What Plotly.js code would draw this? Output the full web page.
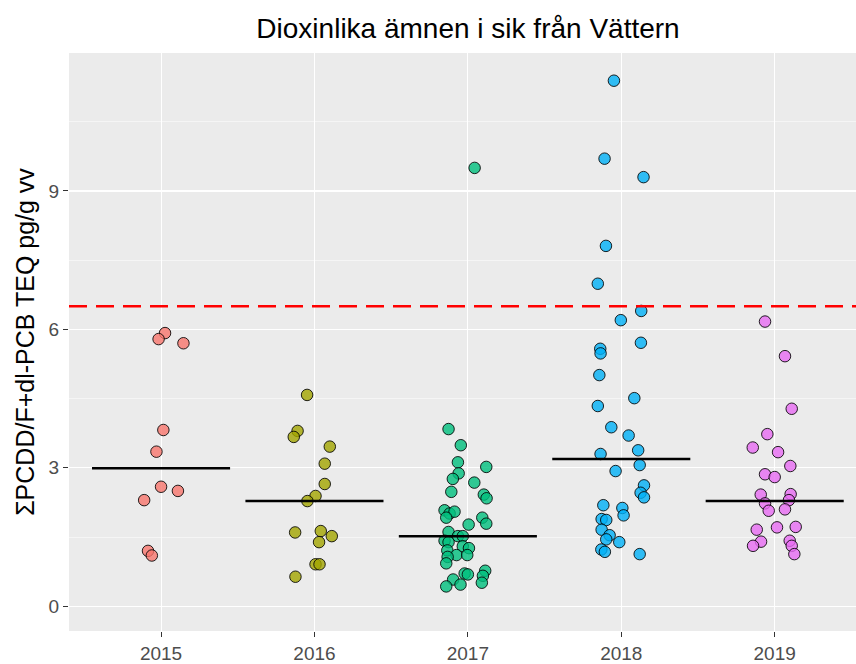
<!DOCTYPE html>
<html>
<head>
<meta charset="utf-8">
<script src="https://cdn.plot.ly/plotly-3.0.1.min.js"></script>
<style>html,body{margin:0;padding:0;background:#fff;}#chart{width:856px;height:664px;}</style>
</head>
<body>
<div id="chart"></div>
<script>
// ---- data ----
const years = ['2015', '2016', '2017', '2018', '2019'];

const values2015 = [5.92, 5.79, 5.70, 3.82, 3.35, 2.59, 2.50, 2.30, 1.20, 1.10];
const jitter2015 = [0.026, -0.016, 0.146, 0.015, -0.03, 0.0, 0.11, -0.11, -0.085, -0.06];

const values2016 = [4.58, 3.80, 3.67, 3.46, 3.09, 2.65, 2.39, 2.28, 1.60, 1.63, 1.52, 1.39, 0.91, 0.91, 0.64];
const jitter2016 = [-0.048, -0.11, -0.135, 0.10, 0.067, 0.067, 0.007, -0.046, -0.126, 0.041, 0.113, 0.03, 0.007, 0.033, -0.124];

const values2017 = [9.50, 3.84, 3.49, 3.12, 3.02, 2.88, 2.76, 2.68, 2.48, 2.42, 2.34, 2.08, 2.01, 2.05, 1.92, 1.92,
  1.79, 1.77, 1.61, 1.52, 1.52, 1.42, 1.39, 1.30, 1.26, 1.21, 1.11, 1.11, 1.07, 0.93, 0.77, 0.71, 0.69, 0.66,
  0.58, 0.51, 0.47, 0.43];
const jitter2017 = [0.044, -0.126, -0.046, -0.065, 0.12, -0.06, -0.098, 0.042, -0.108, 0.104, 0.122, -0.152, -0.119, -0.087, -0.141, 0.094,
  0.12, 0.005, -0.126, -0.065, -0.033, -0.152, -0.126, -0.033, 0.007, -0.134, -0.074, -0.004, -0.132, -0.141, 0.113, -0.021, 0.0, 0.098,
  -0.096, 0.091, -0.048, -0.141];

const values2018 = [11.39, 9.70, 9.30, 7.81, 6.99, 6.40, 6.20, 5.71, 5.58, 5.48, 5.01, 4.51, 4.34, 3.88, 3.70, 3.38, 3.30,
  3.06, 2.93, 2.62, 2.46, 2.36, 2.19, 2.13, 1.97, 1.89, 1.87, 1.66, 1.54, 1.45, 1.39, 1.23, 1.18, 1.13];
const jitter2018 = [-0.048, -0.109, 0.145, -0.1, -0.153, 0.13, -0.003, 0.128, -0.137, -0.135, -0.143, 0.085, -0.153, -0.065, 0.048, 0.11, -0.135,
  0.12, -0.037, 0.148, 0.126, 0.148, -0.117, 0.007, 0.015, -0.128, -0.098, -0.128, -0.076, -0.098, -0.013, -0.13, -0.107, 0.12];

const values2019 = [6.17, 5.42, 4.28, 3.73, 3.44, 3.34, 3.04, 2.86, 2.80, 2.42, 2.43, 2.30, 2.23, 2.07, 2.10, 1.66, 1.71,
  1.72, 1.40, 1.31, 1.42, 1.31, 1.13];
const jitter2019 = [-0.063, 0.067, 0.111, -0.048, -0.143, 0.022, 0.102, -0.063, 0.0, -0.091, 0.104, 0.093, -0.063, -0.039, 0.067, -0.117, 0.015,
  0.137, -0.089, -0.141, 0.098, 0.111, 0.128];

const medians = [2.99, 2.28, 1.52, 3.19, 2.28];
const limitValue = 6.5;

const yearColors = ['rgba(248,118,109,0.8)', 'rgba(163,165,0,0.8)', 'rgba(0,191,125,0.8)', 'rgba(0,176,246,0.8)', 'rgba(231,107,243,0.8)'];

// ---- build traces ----
const allValues = [values2015, values2016, values2017, values2018, values2019];
const allJitter = [jitter2015, jitter2016, jitter2017, jitter2018, jitter2019];

const traces = [];
years.forEach((yr, i) => {
  traces.push({
    type: 'scatter', mode: 'markers', name: yr,
    x: allJitter[i].map(j => i + 1 + j),
    y: allValues[i],
    marker: {size: 11.5, color: yearColors[i], line: {color: 'rgba(0,0,0,0.85)', width: 1}},
    hoverinfo: 'y', showlegend: false
  });
});
years.forEach((yr, i) => {
  traces.push({
    type: 'scatter', mode: 'lines',
    x: [i + 1 - 0.45, i + 1 + 0.45],
    y: [medians[i], medians[i]],
    line: {color: 'black', width: 2.5},
    hoverinfo: 'skip', showlegend: false
  });
});

const font = 'Liberation Sans, Arial, sans-serif';
const layout = {
  width: 856, height: 664,
  margin: {l: 69, r: 0, t: 53, b: 33},
  paper_bgcolor: 'white', plot_bgcolor: '#EBEBEB',
  showlegend: false,
  title: {
    text: 'Dioxinlika ämnen i sik från Vättern',
    font: {family: font, size: 28, color: 'black'},
    x: 0.507, xref: 'paper', xanchor: 'center',
    y: 1 - 28 / 664, yref: 'container', yanchor: 'middle'
  },
  xaxis: {
    range: [0.4, 5.53], tickmode: 'array', tickvals: [1, 2, 3, 4, 5], ticktext: years,
    showgrid: true, gridcolor: 'white', gridwidth: 1.1, zeroline: false,
    ticks: 'outside', ticklen: 5, tickcolor: '#333333', tickwidth: 1,
    tickfont: {family: font, size: 19, color: '#4D4D4D'},
    showline: false, automargin: false, fixedrange: true
  },
  yaxis: {
    range: [-0.536, 11.99], tick0: 0, dtick: 3, tickmode: 'linear',
    showgrid: true, gridcolor: 'white', gridwidth: 1.1, zeroline: false,
    minor: {dtick: 1.5, tick0: 0, showgrid: true, gridcolor: 'white', gridwidth: 0.5, ticks: ''},
    ticks: 'outside', ticklen: 5, tickcolor: '#333333', tickwidth: 1,
    tickfont: {family: font, size: 19, color: '#4D4D4D'},
    title: {text: 'ΣPCDD/F+dl-PCB TEQ pg/g vv', font: {family: font, size: 25, color: 'black'}, standoff: 6},
    showline: false, automargin: false, fixedrange: true
  },
  shapes: [{
    type: 'line', xref: 'paper', x0: 0, x1: 1, yref: 'y', y0: limitValue, y1: limitValue,
    line: {color: 'red', width: 2.5, dash: '18px,9px'}, layer: 'above'
  }]
};

Plotly.newPlot('chart', traces, layout, {displayModeBar: false, staticPlot: true});
</script>
</body>
</html>
